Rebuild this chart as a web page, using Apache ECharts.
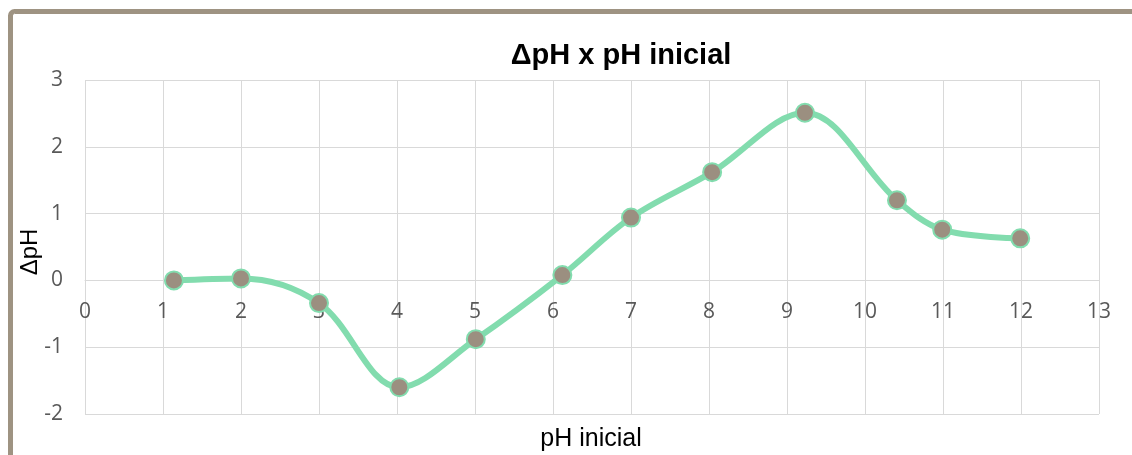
<!DOCTYPE html>
<html><head><meta charset="utf-8">
<script src="https://cdn.jsdelivr.net/npm/echarts@6/dist/echarts.min.js"></script>
<style>html,body{margin:0;padding:0;background:#fff}#c{width:1132px;height:455px}</style>
</head><body><div id="c"></div>
<script>
const titleText = 'ΔpH x pH inicial';
const xName = 'pH inicial';
const yName = 'ΔpH';
const phInicial = [1.14, 2.0, 3.0, 4.03, 5.01, 6.12, 7.0, 8.04, 9.23, 10.41, 10.99, 11.99];
const deltaPh  = [0.0, 0.03, -0.34, -1.6, -0.88, 0.08, 0.94, 1.62, 2.51, 1.2, 0.76, 0.63];
const xTicks = {min: 0, max: 13, interval: 1};
const yTicks = {min: -2, max: 3, interval: 1};

const chart = echarts.init(document.getElementById('c'), null, {renderer: 'canvas'});
const labelColor = '#595959';
const gridColor = '#d9d9d9';
const gridTop = 80, gridBottom = 41, H = 455;
const plotH = H - gridTop - gridBottom;
// x axis sits on y = 0 (Excel style): offset from bottom computed from y range
const zeroOffset = -plotH * (0 - yTicks.min) / (yTicks.max - yTicks.min);
chart.setOption({
  animation: false,
  backgroundColor: '#fff',
  grid: {left: 85, right: 33, top: gridTop, bottom: gridBottom},
  xAxis: {
    type: 'value', min: xTicks.min, max: xTicks.max, interval: xTicks.interval,
    offset: zeroOffset,
    axisLine: {show: true, onZero: false, lineStyle: {color: gridColor, width: 1}},
    axisTick: {show: false},
    axisLabel: {color: labelColor, fontSize: 21, fontFamily: 'Open Sans', margin: 21},
    splitLine: {show: true, lineStyle: {color: gridColor, width: 1}}
  },
  yAxis: {
    type: 'value', min: yTicks.min, max: yTicks.max, interval: yTicks.interval,
    axisLine: {show: false},
    axisTick: {show: false},
    axisLabel: {color: labelColor, fontSize: 21, fontFamily: 'Open Sans', margin: 22},
    splitLine: {show: true, lineStyle: {color: gridColor, width: 1}}
  },
  graphic: [
    {type: 'text', x: 621, y: 56, style: {text: titleText, textAlign: 'center', textVerticalAlign: 'middle', fontSize: 29, fontWeight: 'bold', fontFamily: 'Liberation Sans', fill: '#000'}},
    {type: 'text', x: 591, y: 439, style: {text: xName, textAlign: 'center', textVerticalAlign: 'middle', fontSize: 25, fontFamily: 'Liberation Sans', fill: '#000'}},
    {type: 'text', x: 30, y: 252, rotation: Math.PI / 2, style: {text: yName, textAlign: 'center', textVerticalAlign: 'middle', fontSize: 24, fontFamily: 'Liberation Sans', fill: '#000'}},
    {type: 'rect', shape: {x: 10.5, y: 11.5, width: 1140, height: 460, r: 4}, style: {fill: 'none', stroke: '#9e9382', lineWidth: 5}, z: 100}
  ],
  series: [{
    type: 'line',
    data: phInicial.map((x, i) => [x, deltaPh[i]]),
    smooth: 0.35,
    symbol: 'circle', symbolSize: 18,
    lineStyle: {color: '#82dcae', width: 6},
    itemStyle: {color: '#9b8f80', borderColor: '#82dcae', borderWidth: 2},
    z: 5
  }]
});
</script></body></html>
